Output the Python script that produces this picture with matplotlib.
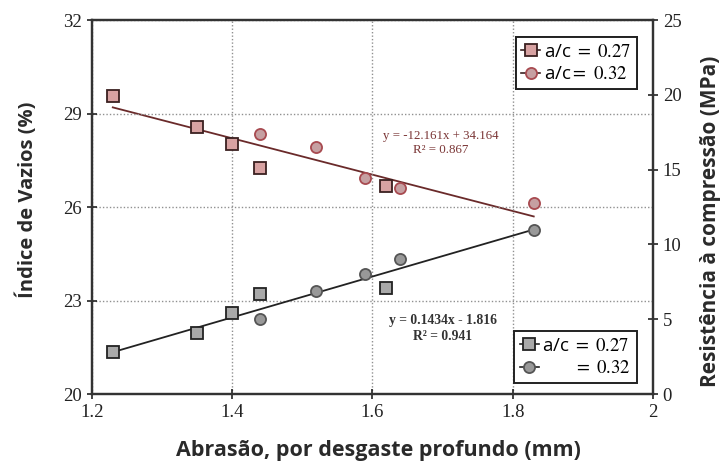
import numpy as np
import matplotlib
matplotlib.use("Agg")
import matplotlib.pyplot as plt

plt.rcParams['mathtext.fontset'] = 'stix'

# abrasion depth (mm)
x_027 = [1.23, 1.35, 1.40, 1.44, 1.62]
x_032 = [1.44, 1.52, 1.59, 1.64, 1.83]

# void index (%) - left axis
vaz_027 = [29.56, 28.57, 28.02, 27.25, 26.67]
vaz_032 = [28.34, 27.93, 26.93, 26.61, 26.13]

# compressive strength (MPa) - right axis
res_027 = [2.8, 4.1, 5.4, 6.7, 7.1]
res_032 = [5.0, 6.9, 8.0, 9.0, 11.0]

# trend lines (end points)
trend_x = [1.23, 1.83]
trend_vaz = [29.2, 25.7]
trend_res = [2.8, 11.0]

xticks = [1.2, 1.4, 1.6, 1.8, 2.0]
xticklabels = ['1.2', '1.4', '1.6', '1.8', '2']
yticks_left = [20, 23, 26, 29, 32]
yticks_right = [0, 5, 10, 15, 20, 25]

serif = 'Liberation Serif'

fig = plt.figure(figsize=(7.28, 4.68), dpi=100)
ax = fig.add_axes([0.126, 0.158, 0.771, 0.799])
ax2 = ax.twinx()

# void index series
ax.plot(x_027, vaz_027, 's', ms=8.5, mfc='#d8a2a2', mec='#3a2020', mew=1.3, ls='none')
ax.plot(x_032, vaz_032, 'o', ms=8, mfc='#c6a0a2', mec='#a84a50', mew=1.3, ls='none')
ax.plot(trend_x, trend_vaz, color='#6a2a2a', lw=1.3, zorder=1)

# strength series
ax2.plot(x_027, res_027, 's', ms=8.5, mfc='#a9a9a9', mec='#222222', mew=1.3, ls='none')
ax2.plot(x_032, res_032, 'o', ms=8, mfc='#999999', mec='#555555', mew=1.3, ls='none')
ax2.plot(trend_x, trend_res, color='#222222', lw=1.3, zorder=1)

ax.set_xlim(1.2, 2.0)
ax.set_ylim(20, 32)
ax2.set_ylim(0, 25)
ax.set_xticks(xticks)
ax.set_xticklabels(xticklabels)
ax.set_yticks(yticks_left)
ax2.set_yticks(yticks_right)

for a in (ax, ax2):
    a.tick_params(direction='inout', length=7, width=1.2, labelsize=13.5, colors='#222222')
    for lab in a.get_xticklabels() + a.get_yticklabels():
        lab.set_family(serif)
    for s in a.spines.values():
        s.set_linewidth(1.6)
        s.set_color('#333333')

ax.grid(True, ls=(0, (1, 1.5)), color='#909090', lw=1.0)

ax.set_xlabel('Abrasão, por desgaste profundo (mm)', family='Open Sans', weight='bold', size=15.5, color='#2a2a2a')
ax.set_ylabel('Índice de Vazios (%)', family='Open Sans', weight='bold', size=14.5, color='#2a2a2a')
ax2.set_ylabel('Resistência à compressão (MPa)', family='Open Sans', weight='bold', size=15, color='#2a2a2a')
ax.xaxis.set_label_coords(0.51, -0.123)
ax.yaxis.set_label_coords(-0.096, 0.519)
ax2.yaxis.set_label_coords(1.084, 0.463)

# trend equations
ax.text(1.697, 28.28, 'y = -12.161x + 34.164', family=serif, size=9.3, color='#7a3535', ha='center', va='center')
ax.text(1.697, 27.83, 'R² = 0.867', family=serif, size=9.3, color='#7a3535', ha='center', va='center')
ax.text(1.70, 22.37, 'y = 0.1434x - 1.816', family=serif, size=9.8, color='#333333', ha='center', va='center', weight='bold')
ax.text(1.70, 21.85, 'R² = 0.941', family=serif, size=9.8, color='#333333', ha='center', va='center', weight='bold')

# legend handles: marker on a short line stub
h1 = plt.Line2D([], [], marker='s', ms=8.5, mfc='#d8a2a2', mec='#3a2020', mew=1.3, color='#3a2020', lw=1.2)
h2 = plt.Line2D([], [], marker='o', ms=8, mfc='#c6a0a2', mec='#a84a50', mew=1.3, color='#3a2020', lw=1.2)
h3 = plt.Line2D([], [], marker='s', ms=8.5, mfc='#a9a9a9', mec='#222222', mew=1.3, color='#222222', lw=1.2)
h4 = plt.Line2D([], [], marker='o', ms=8, mfc='#999999', mec='#555555', mew=1.3, color='#222222', lw=1.2)

leg_opts = dict(fancybox=False, edgecolor='#222222', framealpha=1,
                prop=dict(family='Open Sans', size=13.5), handlelength=1.0,
                handletextpad=0.2, borderpad=0.3, labelspacing=0.25, borderaxespad=0)

leg1 = ax.legend([h1, h2], [r'a/c$\mathrm{\ =\ 0.27}$', r'a/c$\mathrm{=\ 0.32}$'],
                 loc='upper right', bbox_to_anchor=(0.971, 0.955), **leg_opts)
leg1.get_frame().set_linewidth(1.4)
ax.add_artist(leg1)
leg2 = ax2.legend([h3, h4], [r'a/c$\mathrm{\ =\ 0.27}$', r'$\mathrm{\qquad\ =\ 0.32}$'],
                  loc='lower right', bbox_to_anchor=(0.971, 0.03), **leg_opts)
leg2.get_frame().set_linewidth(1.4)

fig.savefig('out.png', dpi=100)
